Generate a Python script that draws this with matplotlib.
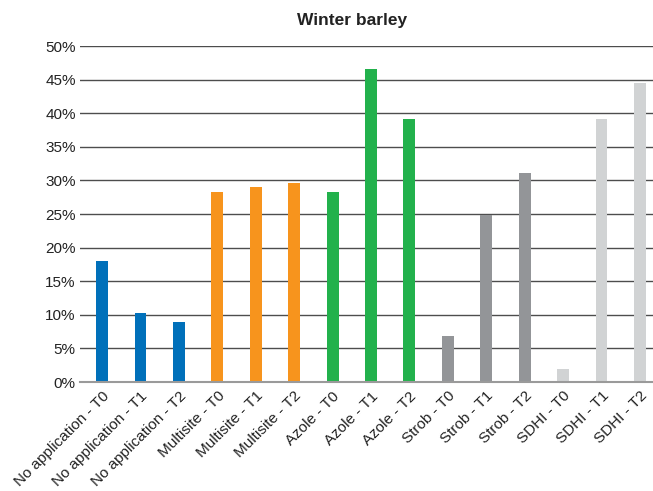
import matplotlib
matplotlib.use("Agg")
import matplotlib.pyplot as plt
from matplotlib.ticker import FuncFormatter, MultipleLocator

plt.rcParams['font.family'] = ['Liberation Sans', 'DejaVu Sans']

title = "Winter barley"
categories = ["No application - T0", "No application - T1", "No application - T2",
              "Multisite - T0", "Multisite - T1", "Multisite - T2",
              "Azole - T0", "Azole - T1", "Azole - T2",
              "Strob - T0", "Strob - T1", "Strob - T2",
              "SDHI - T0", "SDHI - T1", "SDHI - T2"]
values = [18.0, 10.3, 9.0,
          28.3, 29.0, 29.6,
          28.3, 46.6, 39.2,
          6.9, 24.8, 31.1,
          1.9, 39.1, 44.5]
group_colors = ["#0070BA", "#F7941D", "#22B14C", "#939598", "#D1D3D4"]
colors = [c for c in group_colors for _ in range(3)]

W, H = 653, 491
fig = plt.figure(figsize=(W / 100, H / 100), dpi=100)
left, right, bottom, top = 80, 653, 382, 46
ax = fig.add_axes([left / W, 1 - bottom / H, (right - left) / W, (bottom - top) / H])

x = list(range(len(categories)))
ax.bar(x, values, width=0.31, color=colors, zorder=3)

ax.set_ylim(0, 50)
ax.set_xlim(-0.575, 14.34)
ax.yaxis.set_major_locator(MultipleLocator(5))
ax.yaxis.set_major_formatter(FuncFormatter(lambda v, p: f"{int(round(v))}%"))
ax.grid(axis='y', color='#4d4d4d', linewidth=1.0, zorder=1)
ax.set_axisbelow(True)
for s in ['top', 'right', 'left']:
    ax.spines[s].set_visible(False)
ax.spines['bottom'].set_color('#9a9a9a')
ax.spines['bottom'].set_linewidth(1.5)
ax.spines['bottom'].set_zorder(4)

ax.tick_params(axis='y', length=0, pad=3, labelsize=11, labelcolor='#222222')
ax.tick_params(axis='x', length=0, pad=5, labelsize=11, labelcolor='#222222')
ax.set_xticks(x)
ax.set_xticklabels(categories, rotation=45, ha='right', va='top', rotation_mode='anchor')

fig.text(352 / W, 1 - 20 / H, title, ha='center', va='center',
         fontsize=12.5, fontweight='bold', color='#222222')

fig.savefig("out.png", dpi=100)
